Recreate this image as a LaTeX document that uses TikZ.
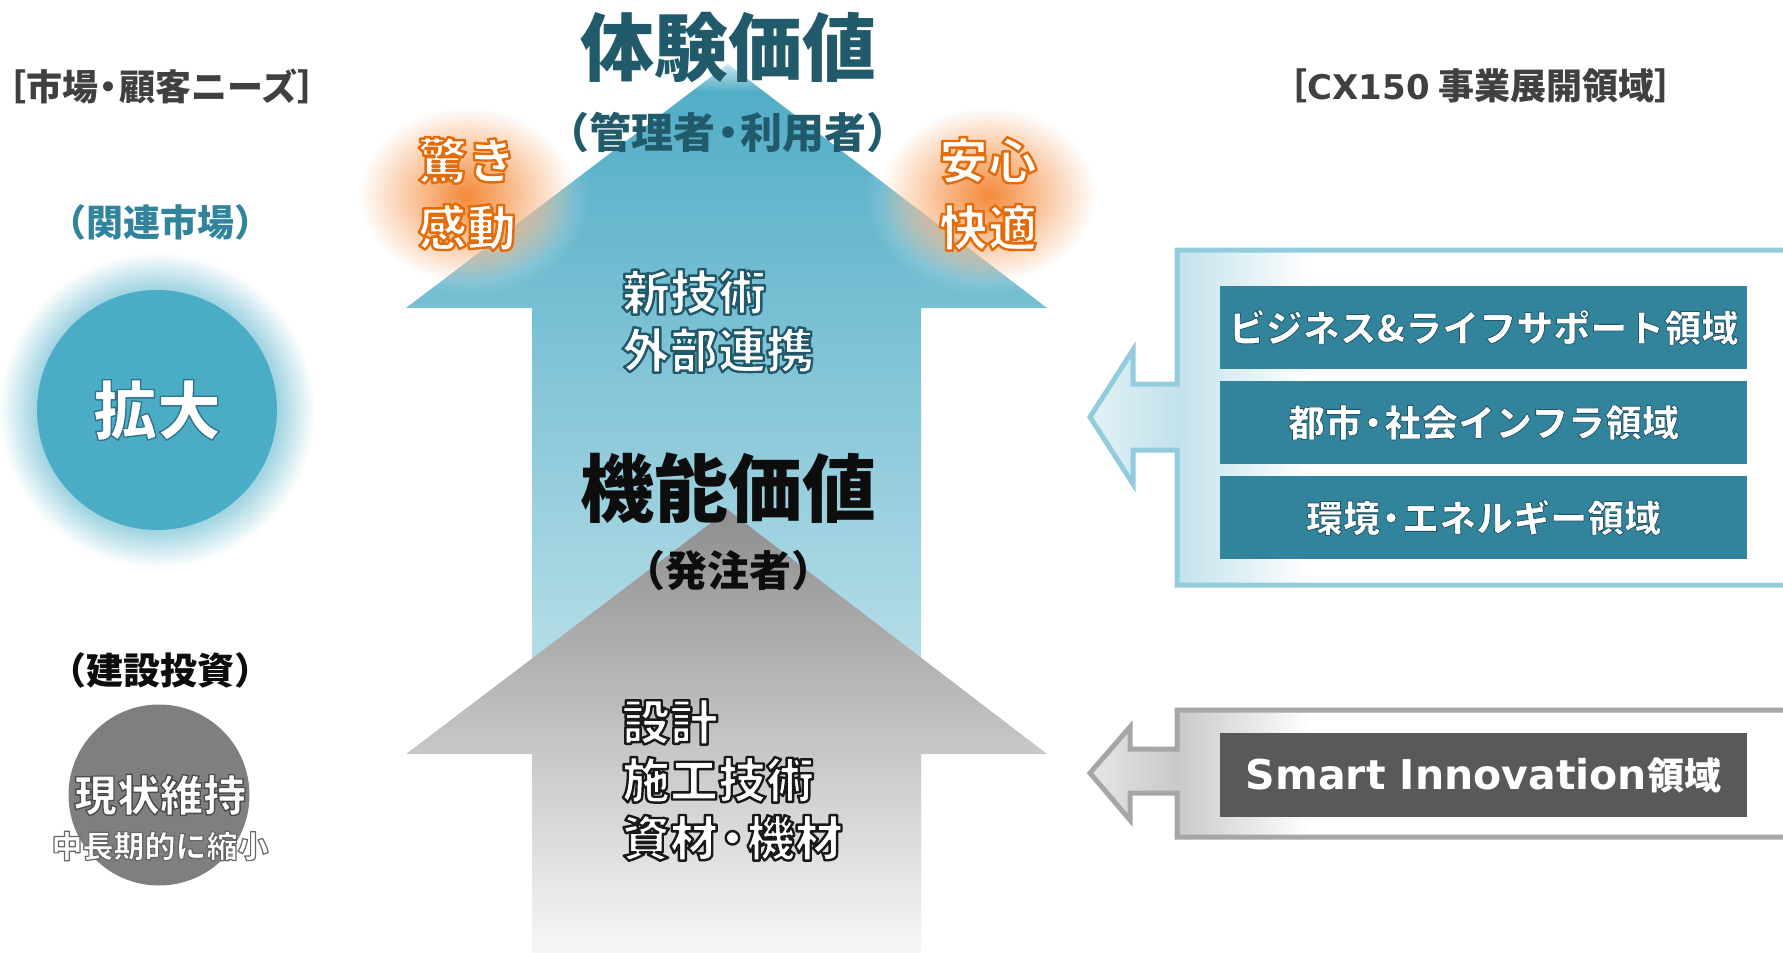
\documentclass[tikz,border=0pt]{standalone}
\usepackage{fontspec}
\setmainfont{Noto Sans CJK JP}
\newfontfamily\dvs{DejaVu Sans}
\usetikzlibrary{fadings}
\tikzfading[name=glowfade, inner color=transparent!0, outer color=transparent!100]
\definecolor{cTitle}{HTML}{215A6A}
\definecolor{cHead}{HTML}{404040}
\definecolor{cTeal}{HTML}{31849B}
\definecolor{cBlue}{HTML}{4BACC6}
\definecolor{cHalo}{HTML}{A3D5E2}
\definecolor{cGreyC}{HTML}{7F7F7F}
\definecolor{cDark}{HTML}{595959}
\definecolor{cBtop}{HTML}{4DABC5}
\definecolor{cBmid}{HTML}{A9D8E5}
\definecolor{cBbot}{HTML}{E8F5F9}
\definecolor{cGtop}{HTML}{8E8E8E}
\definecolor{cGmid}{HTML}{B3B3B3}
\definecolor{cGbot}{HTML}{F7F7F7}
\definecolor{cOrange}{HTML}{F48A3A}
\definecolor{cLB}{HTML}{93CDDD}
\definecolor{cLBtip}{HTML}{E2F1F6}
\definecolor{cLBbase}{HTML}{C3E2EC}
\definecolor{cGB}{HTML}{A6A6A6}
\definecolor{cGBtip}{HTML}{E6E6E6}
\definecolor{cGBbase}{HTML}{C9C9C9}
\definecolor{cBlack}{HTML}{0D0D0D}
\pgfdeclareradialshading{halo}{\pgfpoint{0bp}{0bp}}{color(0bp)=(cHalo); color(19.3bp)=(cHalo); color(25bp)=(white); color(50bp)=(white)}
\newcommand\strk[3]{\special{pdf:literal direct 2 Tr #1 w 1 j #2 RG}#3\special{pdf:literal direct 0 Tr}}
\newcommand\fsz[1]{\bfseries\fontsize{#1}{#1}\selectfont}
\newcommand\md{\kern-0.2em・\kern-0.2em}
\tikzset{
  lbl/.style={inner sep=0pt, outer sep=0pt},
  areabox/.style={inner sep=0pt, minimum width=527pt, minimum height=83pt, text=white, font=\fsz{37}},
}
\begin{document}
\begin{tikzpicture}[x=1pt,y=-1pt]
\useasboundingbox (0,0) rectangle (1783,953);
% big arrows
\shade[top color=cBtop, middle color=cBmid, bottom color=cBbot]
  (728,64) -- (1047,308) -- (921,308) -- (921,953) -- (532,953) -- (532,308) -- (406,308) -- cycle;
\shade[top color=cGtop, middle color=cGmid, bottom color=cGbot]
  (728,510) -- (1047,754) -- (921,754) -- (921,953) -- (532,953) -- (532,754) -- (406,754) -- cycle;
% white glow round the title, orange glows
\fill[white, path fading=glowfade] (728,52) ellipse [x radius=190pt, y radius=40pt];
\fill[white, path fading=glowfade] (470,195) ellipse [x radius=120pt, y radius=100pt];
\fill[white, path fading=glowfade] (985,195) ellipse [x radius=120pt, y radius=100pt];
\fill[cOrange, path fading=glowfade] (467,195) ellipse [x radius=108pt, y radius=88pt];
\fill[cOrange, path fading=glowfade] (988,195) ellipse [x radius=108pt, y radius=88pt];
% headers
\node[lbl, text=cHead, font=\fsz{36}] (hleft) at (162,86) {［市場\md 顧客ニーズ］};
\node[lbl, text=cHead, font=\fsz{36}] (hright) at (1481,86) {［{\dvs\bfseries\fontsize{34}{34}\selectfont CX150} 事業展開領域］};
% centre texts
\node[lbl, text=cTitle, font=\fsz{74}] (exp) at (728,47) {体験価値};
\node[lbl, text=cTitle, font=\fsz{42}] (users) at (728,132) {（管理者\md 利用者）};
\node[lbl, text=white, font=\bfseries\fontsize{49}{67}\selectfont, align=center] (surprise) at (467,194)
  {\strk{2.4}{0.89 0.42 0.04}{驚き}\\\strk{2.4}{0.89 0.42 0.04}{感動}};
\node[lbl, text=white, font=\bfseries\fontsize{49}{67}\selectfont, align=center] (relief) at (988,194)
  {\strk{2.4}{0.89 0.42 0.04}{安心}\\\strk{2.4}{0.89 0.42 0.04}{快適}};
\node[lbl, anchor=west, text=white, font=\bfseries\fontsize{48}{58}\selectfont, align=left] (newtech) at (622,321)
  {\strk{2.4}{0.13 0.35 0.42}{新技術}\\\strk{2.4}{0.13 0.35 0.42}{外部連携}};
\node[lbl, text=cBlack, font=\fsz{74}] (func) at (728,488) {機能価値};
\node[lbl, text=cBlack, font=\fsz{42}] (client) at (728,571) {（発注者）};
\node[lbl, anchor=west, text=white, font=\bfseries\fontsize{48}{58}\selectfont, align=left] (design) at (622,780)
  {\strk{2.4}{0.1 0.1 0.1}{設計}\\\strk{2.4}{0.1 0.1 0.1}{施工技術}\\\strk{2.4}{0.1 0.1 0.1}{資材\md 機材}};
% left column
\node[lbl, text=cTeal, font=\fsz{37}] (related) at (160,222) {（関連市場）};
\shade[shading=halo] (157,410) circle [radius=158pt];
\node[circle, fill=cBlue, minimum size=240pt, inner sep=0pt, text=white, font=\fsz{64}] (grow) at (157,410)
  {\strk{1.4}{0.2 0.45 0.55}{拡大}};
\node[lbl, text=cBlack, font=\fsz{37}] (invest) at (160,670) {（建設投資）};
\node[circle, fill=cGreyC, minimum size=181pt, inner sep=0pt] (keep) at (159,795) {};
\node[lbl, text=white, font=\fsz{43}] (keeptxt) at (160,795) {\strk{1.4}{0.3 0.3 0.3}{現状維持}};
\node[lbl, text=white, font=\fsz{31}] (shrink) at (160,846) {\strk{1.2}{0.4 0.4 0.4}{中長期的に縮小}};
% right: blue arrow box
\shade[left color=cLBtip, right color=cLBbase]
  (1090,417) -- (1133,350) -- (1133,384) -- (1177,384) -- (1177,450) -- (1133,450) -- (1133,484) -- cycle;
\shade[left color=cLBbase, right color=white] (1177,250) rectangle (1310,585);
\draw[line width=5pt, cLB]
  (1786,250) -- (1177,250) -- (1177,384) -- (1133,384) -- (1133,350) -- (1090,417) -- (1133,484)
  -- (1133,450) -- (1177,450) -- (1177,585) -- (1786,585);
\node[areabox, fill=cTeal] (biz) at (1483.5,327.5) {\strk{0.8}{0.12 0.33 0.4}{ビジネス\&ライフサポート領域}};
\node[areabox, fill=cTeal] (city) at (1483.5,422.5) {\strk{0.8}{0.12 0.33 0.4}{都市\md 社会インフラ領域}};
\node[areabox, fill=cTeal] (env) at (1483.5,517.5) {\strk{0.8}{0.12 0.33 0.4}{環境\md エネルギー領域}};
% right: grey arrow box
\shade[left color=cGBtip, right color=cGBbase]
  (1090,773) -- (1130,727) -- (1130,749) -- (1177,749) -- (1177,793) -- (1130,793) -- (1130,820) -- cycle;
\shade[left color=cGBbase, right color=white] (1177,710) rectangle (1310,837);
\draw[line width=5pt, cGB]
  (1786,710) -- (1177,710) -- (1177,749) -- (1130,749) -- (1130,727) -- (1090,773) -- (1130,820)
  -- (1130,793) -- (1177,793) -- (1177,837) -- (1786,837);
\node[areabox, fill=cDark, minimum height=84pt] (smart) at (1483.5,775) {{\dvs\bfseries\fontsize{41}{41}\selectfont Smart Innovation}領域};
\end{tikzpicture}
\end{document}
